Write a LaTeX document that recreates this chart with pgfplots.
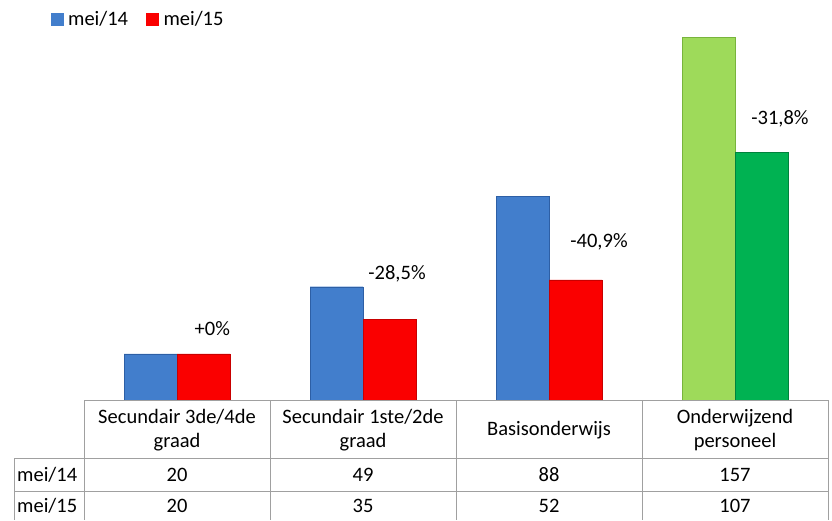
\documentclass[border=0pt]{standalone}
\usepackage{pgfplots}
\pgfplotsset{compat=1.18}
\usepackage{fontspec}
\setmainfont{Carlito}
\definecolor{cblue}{RGB}{66,126,204}
\definecolor{cblueD}{RGB}{45,95,165}
\definecolor{cred}{RGB}{250,0,0}
\definecolor{credD}{RGB}{200,0,0}
\definecolor{clg}{RGB}{158,218,90}
\definecolor{clgD}{RGB}{120,180,60}
\definecolor{cdg}{RGB}{0,178,82}
\definecolor{cdgD}{RGB}{0,130,60}
\definecolor{grid}{RGB}{160,160,160}
\newcommand{\cf}{\fontsize{20.5}{24.5}\selectfont}
\begin{document}
\begin{tikzpicture}[x=1pt,y=1pt]
\useasboundingbox (0,0) rectangle (832,520);
\begin{axis}[
  at={(84pt,120pt)}, anchor=south west,
  scale only axis, width=744pt, height=393pt,
  xmin=-0.5, xmax=3.5, ymin=0, ymax=170,
  axis lines=none, xtick=\empty, ytick=\empty,
  clip=false,
  legend columns=2,
  legend style={draw=none, fill=none, at={(rel axis cs:-0.045,0.969)}, anchor=west,
    font=\cf, inner sep=0pt, /tikz/every even column/.append style={column sep=16pt}},
]
\addplot[ybar, bar width=53pt, bar shift=-26.5pt, fill=cblue, draw=cblueD,
  legend image code/.code={\fill[cblue] (0pt,-6pt) rectangle (12pt,6pt);}]
  coordinates {(0,20) (1,49) (2,88)};
\addlegendentry{\hspace{3pt}mei/14}
\addplot[ybar, bar width=53pt, bar shift=26.5pt, fill=cred, draw=credD,
  legend image code/.code={\fill[cred] (0pt,-6pt) rectangle (12pt,6pt);}]
  coordinates {(0,20) (1,35) (2,52)};
\addlegendentry{\hspace{3pt}mei/15}
\addplot[ybar, bar width=53pt, bar shift=-26.5pt, fill=clg, draw=clgD, forget plot]
  coordinates {(3,157)};
\addplot[ybar, bar width=53pt, bar shift=26.5pt, fill=cdg, draw=cdgD, forget plot]
  coordinates {(3,107)};
\node[font=\cf] at (axis cs:0.19,31.1) {+0\%};
\node[font=\cf] at (axis cs:1.183,54.5) {-28,5\%};
\node[font=\cf] at (axis cs:2.269,68.3) {-40,9\%};
\node[font=\cf] at (axis cs:3.242,121.5) {-31,8\%};
\end{axis}
% data table
\draw[grid, line width=1pt] (84,120) -- (828,120);
\draw[grid, line width=1pt] (14,62) -- (828,62);
\draw[grid, line width=1pt] (14,29) -- (828,29);
\foreach \x in {84,270,456,642,828} \draw[grid, line width=1pt] (\x,120) -- (\x,0);
\draw[grid, line width=1pt] (14,62) -- (14,0);
\node[font=\cf, align=center] at (177,90) {Secundair 3de/4de\\graad};
\node[font=\cf, align=center] at (363,90) {Secundair 1ste/2de\\graad};
\node[font=\cf, align=center] at (549,90) {Basisonderwijs};
\node[font=\cf, align=center] at (735,90) {Onderwijzend\\personeel};
\node[font=\cf, anchor=west, inner sep=0pt] at (17,45) {mei/14};
\node[font=\cf, anchor=west, inner sep=0pt] at (17,14) {mei/15};
\foreach \x/\v in {177/20,363/49,549/88,735/157} \node[font=\cf] at (\x,45) {\v};
\foreach \x/\v in {177/20,363/35,549/52,735/107} \node[font=\cf] at (\x,14) {\v};
\end{tikzpicture}
\end{document}
